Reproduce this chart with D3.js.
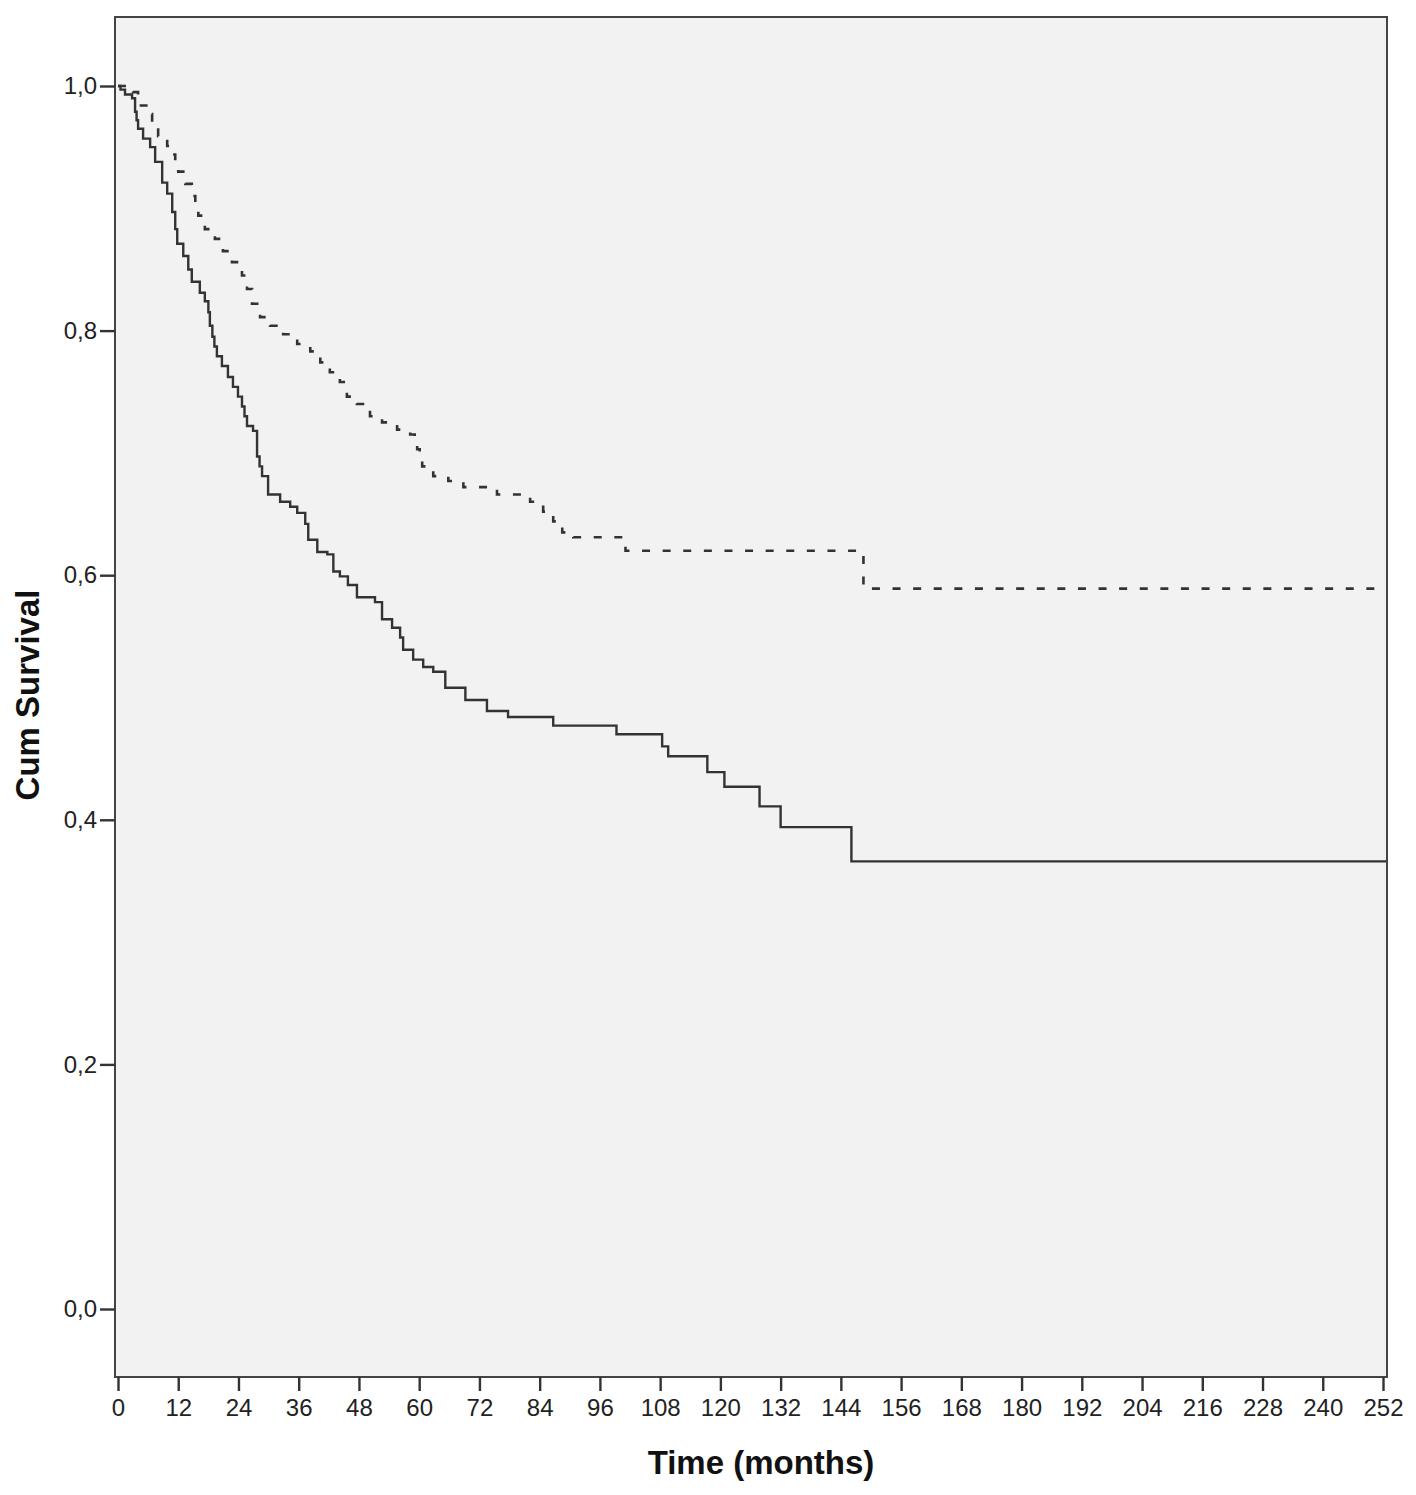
<!DOCTYPE html>
<html>
<head>
<meta charset="utf-8">
<script src="https://cdn.jsdelivr.net/npm/d3@7"></script>
<style>
  body { margin: 0; background: #fff; }
  text { font-family: "Liberation Sans", Arial, sans-serif; }
</style>
</head>
<body>
<div id="chart"></div>
<script>
// tick values
var xTicks = d3.range(0, 253, 12);
var yTicks = [0, 0.2, 0.4, 0.6, 0.8, 1.0];

// solid curve
var solidTime = [0, 0.5, 1.4, 2.8, 3.4, 3.7, 4.0, 5.0, 6.4, 7.4, 8.8, 9.8, 10.8, 11.4, 11.8, 13.0, 14.0, 14.7,
  16.3, 17.3, 18.0, 18.3, 18.8, 19.2, 19.7, 20.7, 21.9, 22.9, 23.9, 24.7, 25.2, 25.7, 26.9, 27.7, 28.2, 28.7, 29.9, 32.3, 34.3, 35.7,
  37.3, 37.9, 39.7, 41.7, 42.9, 44.2, 45.8, 47.6, 51.2, 52.6, 54.6, 56.2, 56.8, 58.8, 60.8, 62.8, 65.2,
  69.2, 73.5, 77.7, 86.7, 99.3, 108.4, 109.6, 117.4, 120.8, 127.8, 132.0, 146.1, 253];
var solidSurv = [1.0, 0.997, 0.993, 0.990, 0.979, 0.972, 0.965, 0.957, 0.950, 0.938, 0.921, 0.912, 0.897, 0.883, 0.871, 0.861, 0.850, 0.840,
  0.831, 0.824, 0.815, 0.804, 0.795, 0.787, 0.779, 0.771, 0.762, 0.754, 0.746, 0.738, 0.730, 0.722, 0.718, 0.697, 0.689, 0.681, 0.666, 0.660, 0.656, 0.651,
  0.642, 0.629, 0.619, 0.617, 0.603, 0.599, 0.592, 0.582, 0.578, 0.564, 0.557, 0.549, 0.539, 0.531, 0.525, 0.521, 0.508,
  0.498, 0.489, 0.484, 0.477, 0.470, 0.460, 0.452, 0.439, 0.427, 0.411, 0.394, 0.366, 0.366];

// dashed curve
var dashTime = [0, 3.0, 4.0, 6.0, 6.8, 8.0, 9.8, 10.8, 11.4, 12.0, 13.4, 14.7, 15.4, 16.0, 17.3, 19.3, 20.9, 22.7, 24.7,
  25.7, 26.7, 28.3, 30.3, 32.9, 35.7, 38.3, 40.3, 42.2, 44.2, 45.6, 47.6, 50.2, 52.6, 55.6, 58.2, 59.1, 59.6, 60.1, 60.6,
  62.8, 65.8, 68.8, 75.5, 82.1, 84.7, 86.7, 88.5, 90.7, 101.1, 148.5, 251];
var dashSurv = [1.0, 0.995, 0.984, 0.977, 0.967, 0.959, 0.951, 0.944, 0.937, 0.930, 0.920, 0.910, 0.902, 0.894, 0.883, 0.875, 0.865, 0.856, 0.845,
  0.834, 0.822, 0.811, 0.804, 0.797, 0.789, 0.783, 0.774, 0.766, 0.758, 0.746, 0.740, 0.730, 0.725, 0.719, 0.715, 0.709, 0.703, 0.696, 0.689,
  0.681, 0.677, 0.672, 0.666, 0.660, 0.652, 0.644, 0.635, 0.631, 0.620, 0.589, 0.589];

var width = 1416, height = 1495;
var box = {left: 115, right: 1387, top: 17, bottom: 1377};

var svg = d3.select('#chart').append('svg').attr('width', width).attr('height', height);

var x = d3.scaleLinear().domain([0, 252]).range([118, 1383]);
var y = d3.scaleLinear().domain([0, 1]).range([1309, 86]);

svg.append('rect')
  .attr('x', box.left).attr('y', box.top)
  .attr('width', box.right - box.left).attr('height', box.bottom - box.top)
  .style('fill', '#f2f2f2');

var line = d3.line()
  .x(function (d) { return x(d[0]); })
  .y(function (d) { return y(d[1]); })
  .curve(d3.curveStepAfter);

svg.append('path')
  .datum(d3.zip(dashTime, dashSurv))
  .attr('d', line)
  .style('fill', 'none').style('stroke', '#333')
  .style('stroke-width', 2.6).style('stroke-dasharray', '8,12.6');

svg.append('path')
  .datum(d3.zip(solidTime, solidSurv))
  .attr('d', line)
  .style('fill', 'none').style('stroke', '#333')
  .style('stroke-width', 2.4);

svg.append('rect')
  .attr('x', box.left).attr('y', box.top)
  .attr('width', box.right - box.left).attr('height', box.bottom - box.top)
  .style('fill', 'none').style('stroke', '#444').style('stroke-width', 2);

var yAxis = svg.append('g')
  .attr('transform', 'translate(' + box.left + ',0)')
  .call(d3.axisLeft(y).tickValues(yTicks).tickSize(15).tickPadding(3)
    .tickFormat(function (d) { return d3.format('.1f')(d).replace('.', ','); }));

var xAxis = svg.append('g')
  .attr('transform', 'translate(0,' + box.bottom + ')')
  .call(d3.axisBottom(x).tickValues(xTicks).tickSize(14).tickPadding(8));

[yAxis, xAxis].forEach(function (a) {
  a.select('.domain').remove();
  a.selectAll('line').style('stroke', '#333').style('stroke-width', 2.4);
  a.selectAll('text').style('font-size', '24px').style('fill', '#222')
    .style('font-family', '"Liberation Sans", Arial, sans-serif');
});

svg.append('text')
  .attr('x', 761).attr('y', 1474)
  .attr('text-anchor', 'middle')
  .style('font-size', '33px').style('font-weight', 'bold').style('fill', '#111')
  .text('Time (months)');

svg.append('text')
  .attr('transform', 'translate(39,695) rotate(-90)')
  .attr('text-anchor', 'middle')
  .style('font-size', '33px').style('font-weight', 'bold').style('fill', '#111')
  .text('Cum Survival');
</script>
</body>
</html>
